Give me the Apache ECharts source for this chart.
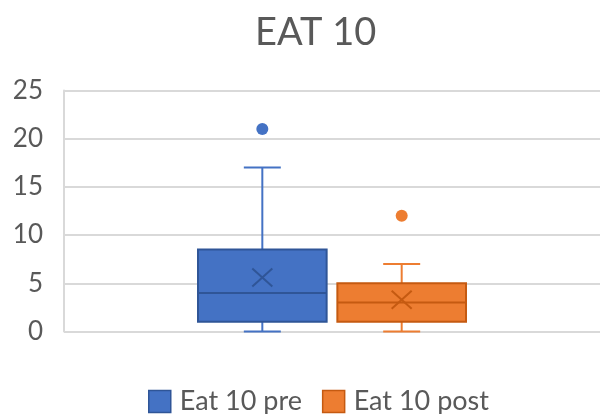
<!DOCTYPE html>
<html>
<head>
<meta charset="utf-8">
<title>EAT 10</title>
<script src="https://cdn.jsdelivr.net/npm/echarts@6/dist/echarts.min.js"></script>
<style>
  html, body { margin: 0; padding: 0; background: #ffffff; }
  #chart { width: 603px; height: 414px; }
</style>
</head>
<body>
<div id="chart"></div>
<script>
// Box-and-whisker summary of EAT-10 scores before and after
const categories = [''];
const seriesNames = ['Eat 10 pre', 'Eat 10 post'];
// [min, Q1, median, Q3, max] of the non-outlier values
const preStats = [0, 1, 4, 8.5, 17];
const postStats = [0, 1, 3, 5, 7];
const means = [5.6, 3.3];
const preOutliers = [21];
const postOutliers = [12];
const yTicks = [0, 5, 10, 15, 20, 25];

const fills = ['#4472C4', '#ED7D31'];
const strokes = ['#2F5597', '#C55A11'];
// horizontal placement of each box inside the single category band
const offsets = [-0.13, 0.13];
const boxFrac = 0.24;
const capFrac = 0.069;

const stats = [preStats, postStats];
const outliers = [preOutliers, postOutliers];

function renderBox(params, api) {
  const s = params.seriesIndex;
  const band = api.size([1, 0])[0];
  const cx = api.coord([api.value(0), 0])[0] + offsets[s] * band;
  const half = band * boxFrac / 2;
  const cap = band * capFrac / 2;
  const y = i => api.coord([api.value(0), api.value(i)])[1];
  const yMin = y(1), yQ1 = y(2), yMed = y(3), yQ3 = y(4), yMax = y(5), yMean = y(6);
  const lw = 2;
  const stroke = strokes[s];
  const fill = fills[s];
  const children = [
    // whiskers
    { type: 'line', shape: { x1: cx, y1: yQ3, x2: cx, y2: yMax }, style: { stroke: fill, lineWidth: lw } },
    { type: 'line', shape: { x1: cx - cap, y1: yMax, x2: cx + cap, y2: yMax }, style: { stroke: fill, lineWidth: lw } },
    { type: 'line', shape: { x1: cx, y1: yQ1, x2: cx, y2: yMin }, style: { stroke: fill, lineWidth: lw } },
    { type: 'line', shape: { x1: cx - cap, y1: yMin, x2: cx + cap, y2: yMin }, style: { stroke: fill, lineWidth: lw } },
    // box
    { type: 'rect', shape: { x: cx - half, y: yQ3, width: half * 2, height: yQ1 - yQ3 }, style: { fill: fill, stroke: stroke, lineWidth: lw } },
    // median
    { type: 'line', shape: { x1: cx - half, y1: yMed, x2: cx + half, y2: yMed }, style: { stroke: stroke, lineWidth: lw } },
    // mean marker
    { type: 'line', shape: { x1: cx - 10, y1: yMean - 9, x2: cx + 10, y2: yMean + 9 }, style: { stroke: stroke, lineWidth: lw } },
    { type: 'line', shape: { x1: cx - 10, y1: yMean + 9, x2: cx + 10, y2: yMean - 9 }, style: { stroke: stroke, lineWidth: lw } }
  ];
  outliers[s].forEach(v => {
    const p = api.coord([api.value(0), v]);
    children.push({ type: 'circle', shape: { cx: cx, cy: p[1], r: 6 }, style: { fill: fill } });
  });
  return { type: 'group', children: children };
}

const series = seriesNames.map((name, s) => ({
  name: name,
  type: 'custom',
  renderItem: renderBox,
  itemStyle: { color: fills[s], borderColor: strokes[s], borderWidth: 1.5 },
  encode: { x: 0, y: [1, 2, 3, 4, 5, 6] },
  data: [[0].concat(stats[s], [means[s]])]
}));

const chart = echarts.init(document.getElementById('chart'), null, { renderer: 'canvas' });
chart.setOption({
  animation: false,
  backgroundColor: '#ffffff',
  textStyle: { fontFamily: 'Lato, "Open Sans", sans-serif' },
  title: {
    text: 'EAT 10',
    left: 250,
    top: 9,
    textStyle: { fontSize: 38, fontWeight: 'normal', color: '#595959', fontFamily: 'Lato, "Open Sans", sans-serif' }
  },
  legend: {
    data: seriesNames.map((n, s) => ({ name: n, icon: 'rect', itemStyle: { color: fills[s], borderColor: strokes[s], borderWidth: 1.5 } })),
    left: 148,
    top: 388,
    padding: 0,
    itemWidth: 22,
    itemHeight: 22,
    itemGap: 20,
    textStyle: { fontSize: 27, color: '#595959', padding: [0, 0, 0, 4] }
  },
  grid: { left: 64, right: 3, top: 90.5, bottom: 82.5, containLabel: false },
  xAxis: {
    type: 'category',
    data: categories,
    boundaryGap: true,
    axisLine: { show: false },
    axisTick: { show: false },
    axisLabel: { show: false },
    splitLine: { show: false }
  },
  yAxis: {
    type: 'value',
    min: yTicks[0],
    max: yTicks[yTicks.length - 1],
    interval: 5,
    axisLine: { show: true, lineStyle: { color: '#d9d9d9', width: 2 } },
    axisTick: { show: false },
    axisLabel: { fontSize: 26, color: '#595959', margin: 21 },
    splitLine: { lineStyle: { color: '#d9d9d9', width: 2 } }
  },
  series: series
});
</script>
</body>
</html>
